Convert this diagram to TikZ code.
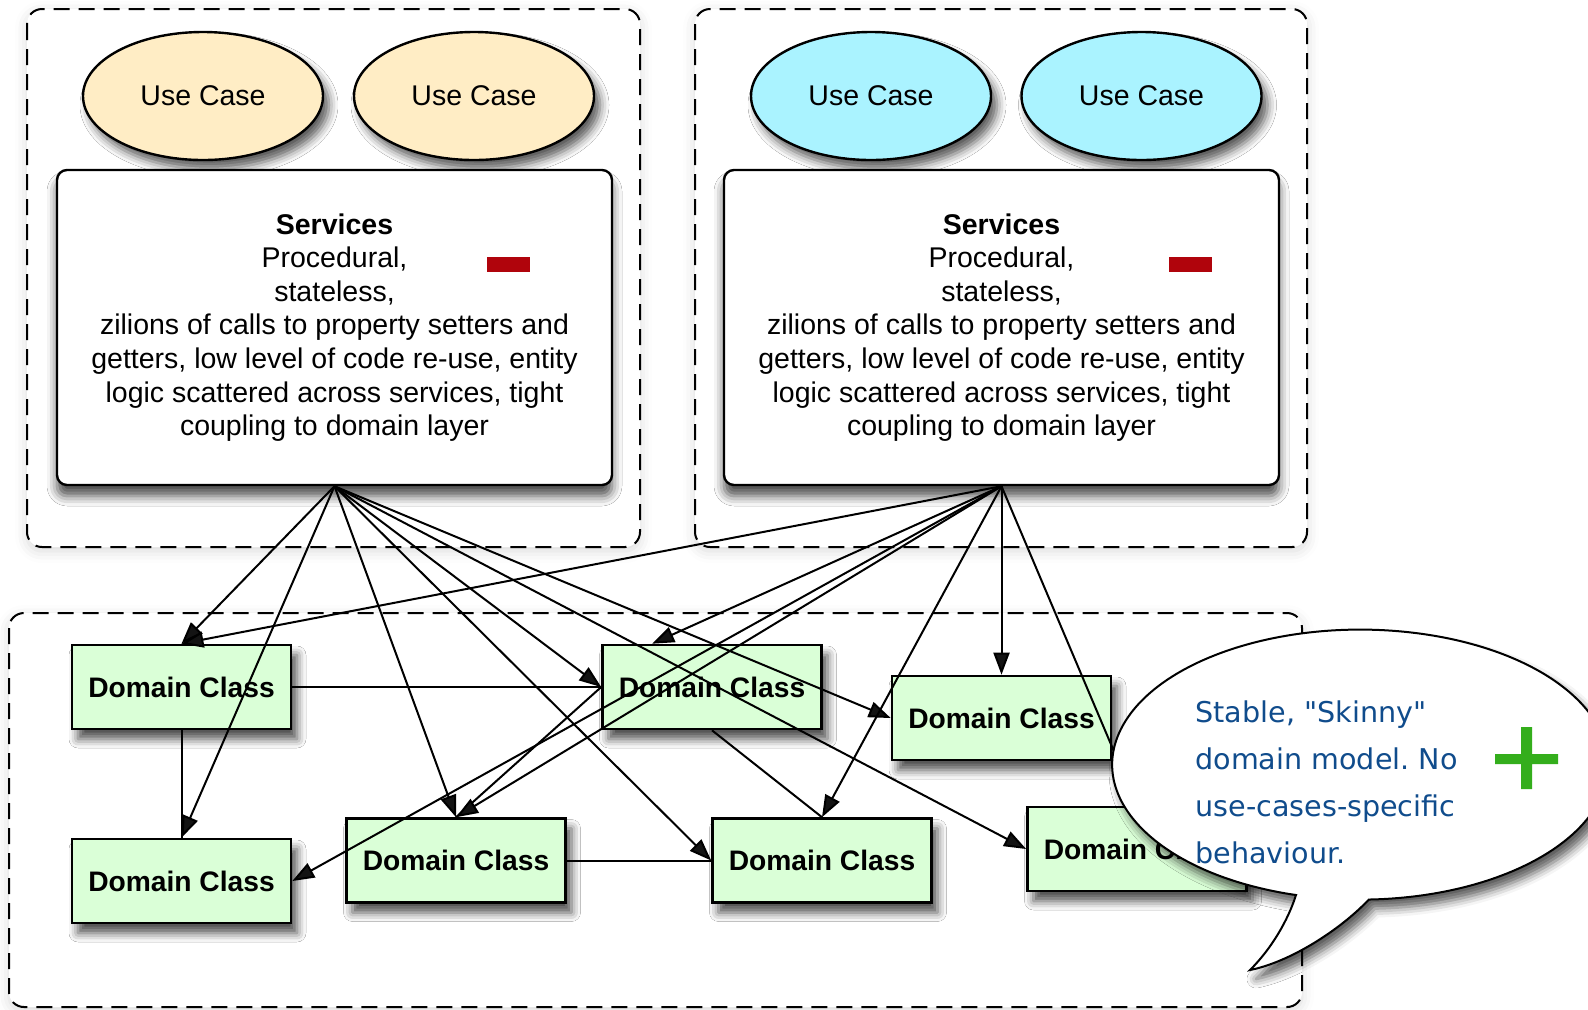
\documentclass[tikz,border=0pt]{standalone}
\usepackage{fontspec}
\setmainfont{Liberation Sans}
\newfontfamily\notefont{DejaVu Sans}
\usetikzlibrary{shapes.geometric,arrows.meta,shadows.blur,calc}

\definecolor{ucpeach}{RGB}{255,237,197}
\definecolor{uccyan}{RGB}{170,243,255}
\definecolor{dcgreen}{RGB}{218,255,215}
\definecolor{minusred}{RGB}{176,4,12}
\definecolor{plusgreen}{RGB}{52,174,28}
\definecolor{noteblue}{RGB}{16,76,140}
\frenchspacing

\begin{document}
\begin{tikzpicture}[x=0.5pt,y=-0.5pt,
  every node/.style={inner sep=0pt},
  layerbox/.style={draw, fill=white, line width=1pt, dash pattern=on 8pt off 4.5pt,
    rounded corners=7.5pt,
    blur shadow={shadow xshift=0pt, shadow yshift=-2pt, shadow blur radius=6pt, shadow opacity=15}},
  ucnode/.style={ellipse, draw, line width=1.2pt, minimum width=120pt, minimum height=64pt,
    font=\fontsize{14.25pt}{17pt}\selectfont,
    blur shadow={shadow xshift=3pt, shadow yshift=-4.5pt, shadow blur radius=4.5pt, shadow opacity=65}},
  svcbox/.style={draw, fill=white, line width=1.2pt, rounded corners=5pt,
    minimum width=277.5pt, minimum height=157.5pt, align=center,
    font=\fontsize{14.25pt}{16.8pt}\selectfont,
    blur shadow={shadow xshift=0pt, shadow yshift=-5.5pt, shadow blur radius=5pt, shadow opacity=70}},
  dclass/.style={draw, fill=dcgreen, line width=1.3pt, minimum width=109.5pt, minimum height=42pt,
    font=\bfseries\fontsize{14.1pt}{17pt}\selectfont,
    blur shadow={shadow xshift=3pt, shadow yshift=-5pt, shadow blur radius=4.5pt, shadow opacity=70}},
  callarrow/.style={-{Triangle[length=11pt,width=8pt]}, line width=1pt},
  assoc/.style={line width=1pt},
  notebubble/.style={draw, fill=white, line width=1pt,
    blur shadow={shadow xshift=3pt, shadow yshift=-4.5pt, shadow blur radius=4.5pt, shadow opacity=65}},
]
\useasboundingbox (0,0) rectangle (1588,1009);

% layer frames
\path[layerbox] (27,9) rectangle (640,547);
\path[layerbox] (695,9) rectangle (1307,547);
\path[layerbox] (9,613) rectangle (1302,1007);

% use cases
\node[ucnode, fill=ucpeach] (uc1) at (203,96)    {Use Case};
\node[ucnode, fill=ucpeach] (uc2) at (474,96)    {Use Case};
\node[ucnode, fill=uccyan]  (uc3) at (871,96)    {Use Case};
\node[ucnode, fill=uccyan]  (uc4) at (1141.5,96) {Use Case};

% service layers
\node[svcbox] (s1) at (334.5,327.5) {{\bfseries Services}\\Procedural,\\stateless,\\zilions of calls to property setters and\\getters, low level of code re-use, entity\\logic scattered across services, tight\\coupling to domain layer};
\node[svcbox] (s2) at (1001.5,327.5) {{\bfseries Services}\\Procedural,\\stateless,\\zilions of calls to property setters and\\getters, low level of code re-use, entity\\logic scattered across services, tight\\coupling to domain layer};
\fill[minusred] (487,257) rectangle (530,272);
\fill[minusred] (1169,257) rectangle (1212,272);

% domain classes
\node[dclass] (d1) at (181.5,687)  {Domain Class};
\node[dclass] (d2) at (712,687)    {Domain Class};
\node[dclass] (d3) at (1001.5,718) {Domain Class};
\node[dclass] (d4) at (181.5,881)  {Domain Class};
\node[dclass] (d5) at (456,860.5)  {Domain Class};
\node[dclass] (d6) at (822,860.5)  {Domain Class};
\node[dclass] (d7) at (1137,849)   {Domain Class};

% associations inside the domain layer
\draw[assoc] (d1.east) -- (d2.west);
\draw[assoc] (d1.south) -- (d4.north);
\draw[assoc] (d5.east) -- (d6.west);
\draw[assoc] (d2.south) -- (d6.north);
\draw[assoc] (d2.west) -- (d5.north);

% calls from the first service layer
\draw[callarrow] (s1.south) -- (d1.north);
\draw[callarrow] (s1.south) -- (d4.north);
\draw[callarrow] (s1.south) -- (d5.north);
\draw[callarrow] (s1.south) -- (d6.west);
\draw[callarrow] (s1.south) -- (d2.west);
\draw[callarrow] (s1.south) -- (d3.west);
\draw[callarrow] (s1.south) -- (d7.west);

% calls from the second service layer
\draw[callarrow] (s2.south) -- (d1.north);
\draw[callarrow] (s2.south) -- ($(d2.north west)!0.23!(d2.north east)$);
\draw[callarrow] (s2.south) -- (d4.east);
\draw[callarrow] (s2.south) -- (d5.north);
\draw[callarrow] (s2.south) -- (d6.north);
\draw[callarrow] (s2.south) -- (d3.north);
\draw[callarrow] (s2.south) -- (d7.north);

% speech bubble
\path[notebubble] (1250,970) .. controls (1272,948) and (1288,920) .. (1296,895)
  arc[start angle=105, end angle=448, x radius=248, y radius=135]
  .. controls (1340,930) and (1290,962) .. (1250,970) -- cycle;
\node[font=\notefont\fontsize{14.3pt}{23.5pt}\selectfont, text=noteblue, align=left, anchor=west]
  (note) at (1195,782) {Stable, "Skinny"\\domain model. No\\use-cases-specific\\behaviour.};
\fill[plusgreen] (1495,754) rectangle (1558,764) (1521,727) rectangle (1532,789);
\end{tikzpicture}
\end{document}
